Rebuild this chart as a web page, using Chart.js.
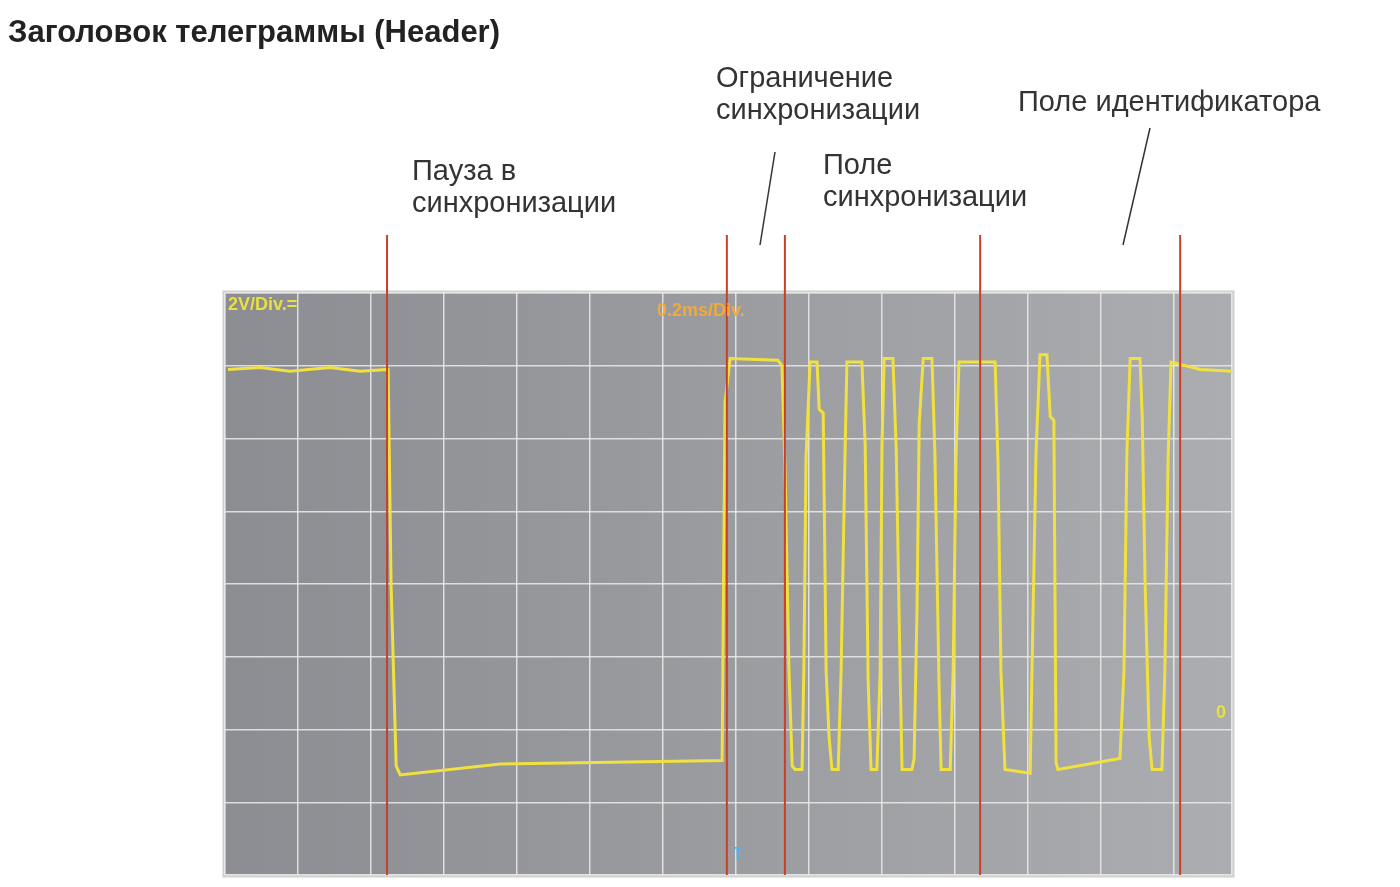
<!DOCTYPE html>
<html><head><meta charset="utf-8">
<script src="https://cdn.jsdelivr.net/npm/chart.js@4/dist/chart.umd.min.js"></script>
<style>html,body{margin:0;padding:0;background:#fff}#w{width:1400px;height:887px;position:relative}</style>
</head><body><div id="w"><canvas id="c"></canvas></div>
<script>
// time (ms) and voltage (V) of the trace
const timeMs = [0.008,0.096,0.178,0.288,0.370,0.447,0.455,0.469,0.480,0.754,1.362,1.370,1.384,1.515,1.526,1.534,1.545,1.554,1.562,1.581,1.586,1.592,1.603,1.622,1.628,1.639,1.647,1.655,1.663,1.680,1.688,1.699,1.704,1.745,1.754,1.762,1.770,1.786,1.795,1.800,1.806,1.830,1.839,1.850,1.855,1.882,1.888,1.896,1.902,1.913,1.937,1.945,1.956,1.962,1.987,1.995,2.003,2.011,2.110,2.118,2.126,2.137,2.206,2.211,2.222,2.233,2.252,2.261,2.271,2.277,2.282,2.452,2.463,2.471,2.480,2.507,2.513,2.521,2.532,2.540,2.567,2.575,2.584,2.592,2.672,2.759];
const volts = [13.9,13.95,13.85,13.95,13.85,13.9,8,3.0,2.75,3.05,3.15,13,14.2,14.15,14.0,11.3,5.7,3.0,2.9,2.9,5.7,11.5,14.1,14.1,12.8,12.7,5.6,3.8,2.9,2.9,5.6,11.7,14.1,14.1,11.8,5.4,2.9,2.9,5.6,11.8,14.2,14.2,11.7,5.4,2.9,2.9,3.2,7.3,12.4,14.2,14.2,11.6,5.4,2.9,2.9,5.6,11.6,14.1,14.1,11.3,5.6,2.9,2.8,5.6,11.6,14.3,14.3,12.6,12.5,3.1,2.9,3.2,5.6,11.6,14.2,14.2,12.6,8,3.8,2.9,2.9,5.6,11.5,14.1,13.9,13.85];
const markerTimes = [0.444,1.375,1.534,2.069,2.617];
const titleText = "Заголовок телеграммы (Header)";
const labels = [
  {lines:["Пауза в","синхронизации"], x:412, y:172},
  {lines:["Ограничение","синхронизации"], x:716, y:79},
  {lines:["Поле","синхронизации"], x:823, y:166},
  {lines:["Поле идентификатора"], x:1018, y:103}
];
const pointers = [[775,152,760,245],[1150,128,1123,245]];

const deco = {
  id:'deco',
  beforeDraw(ch){
    const {ctx, chartArea:a} = ch;
    const g = ctx.createLinearGradient(a.left,0,a.right,0);
    g.addColorStop(0,'#8b8d92'); g.addColorStop(0.5,'#9a9ca0'); g.addColorStop(1,'#abadb0');
    ctx.save(); ctx.fillStyle=g; ctx.fillRect(a.left,a.top,a.right-a.left,a.bottom-a.top);
    ctx.strokeStyle='#d0d0d0'; ctx.lineWidth=3; ctx.strokeRect(a.left-1,a.top-1,a.right-a.left+2,a.bottom-a.top+2);
    ctx.restore();
  },
  afterDatasetsDraw(ch){
    const {ctx, chartArea:a, scales:{x}} = ch;
    ctx.save();
    ctx.strokeStyle='#c8402a'; ctx.lineWidth=2;
    markerTimes.forEach(t=>{const px=x.getPixelForValue(t);ctx.beginPath();ctx.moveTo(px,235);ctx.lineTo(px,a.bottom);ctx.stroke();});
    ctx.strokeStyle='#333'; ctx.lineWidth=1.5;
    pointers.forEach(p=>{ctx.beginPath();ctx.moveTo(p[0],p[1]);ctx.lineTo(p[2],p[3]);ctx.stroke();});
    ctx.fillStyle='#222'; ctx.font='bold 31px "Liberation Sans", Arial'; ctx.textBaseline='middle';
    ctx.fillText(titleText,8,33);
    ctx.font='29px "Liberation Sans", Arial'; ctx.fillStyle='#333';
    labels.forEach(l=>l.lines.forEach((s,i)=>ctx.fillText(s,l.x,l.y+i*32)));
    ctx.font='bold 18px "Liberation Sans", Arial';
    ctx.fillStyle='#e8e040'; ctx.fillText('2V/Div.=',a.left+3,a.top+12);
    ctx.fillStyle='#f0a840'; ctx.fillText('0.2ms/Div.',657,a.top+18);
    ctx.fillStyle='#e8e040'; ctx.fillText('0',1216,713);
    ctx.fillStyle='#5ab0e0'; ctx.font='bold 16px "Liberation Sans", Arial'; ctx.fillText('T',733,855);
    ctx.restore();
  }
};

new Chart(document.getElementById('c'),{
  type:'line',
  data:{datasets:[{data:timeMs.map((t,i)=>({x:t,y:volts[i]})),borderColor:'#f0e040',borderWidth:3,pointRadius:0,tension:0,fill:false}]},
  options:{
    responsive:true, maintainAspectRatio:false, animation:false,
    layout:{padding:{left:225,top:293,right:168,bottom:12}},
    plugins:{legend:{display:false},tooltip:{enabled:false}},
    scales:{
      x:{type:'linear',min:0,max:2.759,ticks:{display:false,stepSize:0.2},grid:{color:'rgba(235,235,235,0.85)',lineWidth:1.5,drawTicks:false},border:{display:false}},
      y:{min:0,max:16,ticks:{display:false,stepSize:2},grid:{color:'rgba(235,235,235,0.85)',lineWidth:1.5,drawTicks:false},border:{display:false}}
    }
  },
  plugins:[deco]
});
</script></body></html>
